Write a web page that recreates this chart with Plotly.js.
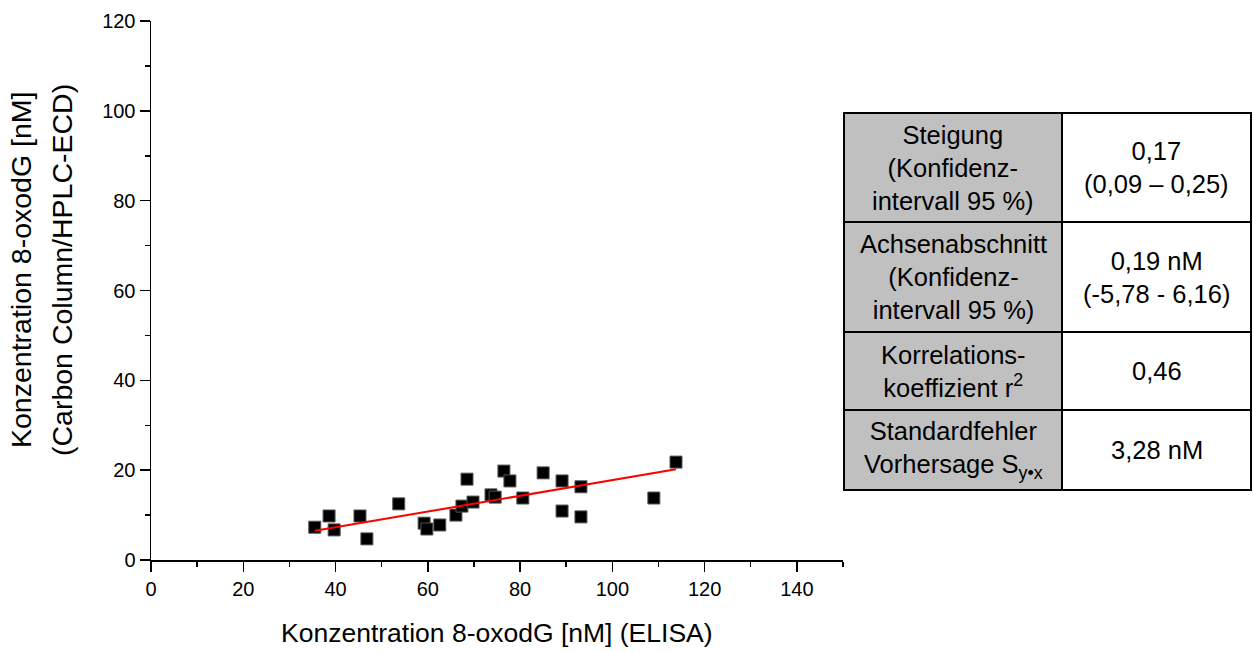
<!DOCTYPE html>
<html>
<head>
<meta charset="utf-8">
<script src="https://cdn.plot.ly/plotly-3.0.1.min.js"></script>
<style>html,body{margin:0;padding:0;background:#fff;}</style>
</head>
<body>
<div id="chart" style="width:1253px;height:652px;"></div>
<script>
// Data
const elisa = [35.5, 38.6, 39.7, 45.3, 46.8, 53.7, 59.2, 59.8, 62.6, 66.1, 67.4, 68.5, 69.8, 73.7, 74.6, 76.5, 77.8, 80.6, 85.0, 89.1, 89.1, 93.2, 93.2, 109.0, 113.8];
const hplc  = [7.3, 9.8, 6.7, 9.8, 4.7, 12.5, 8.2, 6.9, 7.8, 10.0, 12.0, 18.0, 12.9, 14.5, 14.0, 19.8, 17.6, 13.8, 19.4, 17.6, 10.9, 16.3, 9.6, 13.8, 21.8];
const fitX = [35.5, 113.8];
const fitY = [6.5, 20.2];
const xTicks = [0, 20, 40, 60, 80, 100, 120, 140];
const yTicks = [0, 20, 40, 60, 80, 100, 120];
const xMinor = [10, 30, 50, 70, 90, 110, 130, 150];
const yMinor = [10, 30, 50, 70, 90, 110];
const xTitle = 'Konzentration 8-oxodG [nM] (ELISA)';
const yTitleLines = ['Konzentration 8-oxodG [nM]', '(Carbon Column/HPLC-ECD)'];

const tableLabels = [
  "Steigung<br>(Konfidenz-<br>intervall 95 %)",
  "Achsenabschnitt<br>(Konfidenz-<br>intervall 95 %)",
  "Korrelations-<br>koeffizient r<sup>2</sup>",
  "Standardfehler<br>Vorhersage S<sub>y\u2022x</sub>"
];
const tableValues = [
  "0,17<br>(0,09 \u2013 0,25)",
  "0,19 nM<br>(-5,78 - 6,16)",
  "0,46",
  "3,28 nM"
];

// Layout geometry (pixels)
const W = 1253, H = 652;
const L = 151, R = 843, T = 21, B = 560;
const px = v => (v - L) / (R - L);
const py = v => (B - v) / (B - T);
const tabX = [844, 1062, 1251];
const tabY = [113, 222, 332, 410, 490];
const FAM = 'Arial, "Liberation Sans", sans-serif';

const shapes = [];
const annotations = [];
for (let i = 0; i < tableLabels.length; i++) {
  shapes.push({type:'rect', xref:'paper', yref:'paper', x0:px(tabX[0]), x1:px(tabX[1]), y0:py(tabY[i]), y1:py(tabY[i+1]),
    fillcolor:'#c0c0c0', line:{color:'#000', width:2}, layer:'above'});
  shapes.push({type:'rect', xref:'paper', yref:'paper', x0:px(tabX[1]), x1:px(tabX[2]), y0:py(tabY[i]), y1:py(tabY[i+1]),
    fillcolor:'#ffffff', line:{color:'#000', width:2}, layer:'above'});
  const cy = py((tabY[i] + tabY[i+1]) / 2);
  annotations.push({xref:'paper', yref:'paper', x:px((tabX[0]+tabX[1])/2), y:cy, text:tableLabels[i], showarrow:false,
    xanchor:'center', yanchor:'middle', align:'center', font:{family:FAM, size:25.5, color:'#000'}});
  annotations.push({xref:'paper', yref:'paper', x:px((tabX[1]+tabX[2])/2), y:cy, text:tableValues[i], showarrow:false,
    xanchor:'center', yanchor:'middle', align:'center', font:{family:FAM, size:25.5, color:'#000'}});
}
// axis titles
annotations.push({xref:'paper', yref:'paper', x:px(497), y:py(633), text:xTitle, showarrow:false,
  xanchor:'center', yanchor:'middle', font:{family:FAM, size:26.5, color:'#000'}});
const yTitleX = [21, 62];
yTitleLines.forEach((t, i) => {
  annotations.push({xref:'paper', yref:'paper', x:px(yTitleX[i]), y:py(270), text:t, showarrow:false, textangle:-90,
    xanchor:'center', yanchor:'middle', font:{family:FAM, size:28.5, color:'#000'}});
});

const traces = [
  {x: elisa, y: hplc, mode:'markers', type:'scatter',
   marker:{symbol:'square', size:12, color:'#000', line:{color:'#555', width:1}}, hoverinfo:'skip'},
  {x: fitX, y: fitY, mode:'lines', type:'scatter', line:{color:'#ff0000', width:2}, hoverinfo:'skip'}
];

const layout = {
  width:W, height:H,
  margin:{l:L, r:W-R, t:T, b:H-B, pad:0},
  paper_bgcolor:'#fff', plot_bgcolor:'#fff',
  showlegend:false,
  font:{family:FAM, color:'#000'},
  xaxis:{range:[0,150], tickvals:xTicks, ticktext:xTicks.map(String), ticks:'outside', ticklen:10, tickwidth:1.5, tickcolor:'#000',
    minor:{tickvals:xMinor, ticks:'outside', ticklen:5, tickwidth:1.5, tickcolor:'#000'},
    showline:true, linecolor:'#000', linewidth:1.5, showgrid:false, zeroline:false,
    tickfont:{family:FAM, size:20, color:'#000'}},
  yaxis:{range:[0,120], tickvals:yTicks, ticktext:yTicks.map(String), ticks:'outside', ticklen:10, tickwidth:1.5, tickcolor:'#000',
    minor:{tickvals:yMinor, ticks:'outside', ticklen:5, tickwidth:1.5, tickcolor:'#000'},
    showline:true, linecolor:'#000', linewidth:1.5, showgrid:false, zeroline:false,
    tickfont:{family:FAM, size:20, color:'#000'}},
  shapes: shapes,
  annotations: annotations
};

Plotly.newPlot('chart', traces, layout, {displayModeBar:false, staticPlot:true});
</script>
</body>
</html>
